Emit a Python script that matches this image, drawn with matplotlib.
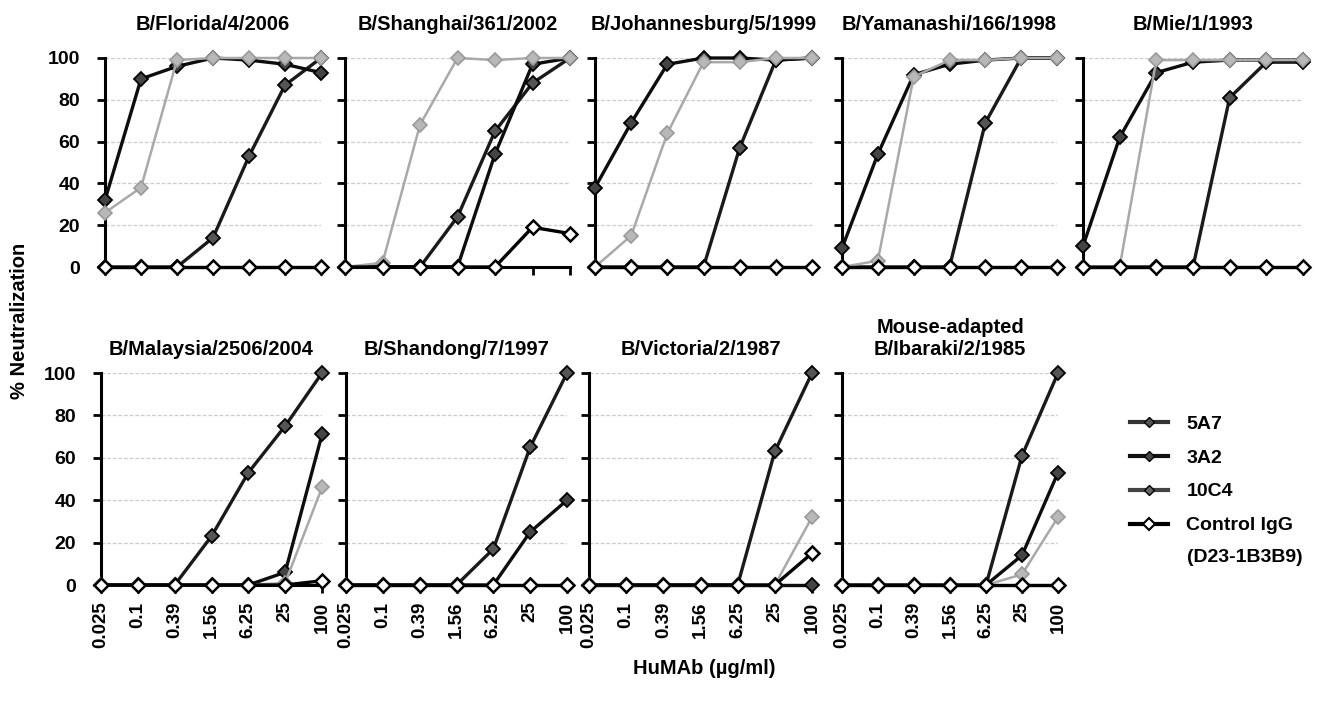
import matplotlib
matplotlib.use("Agg")
import matplotlib.pyplot as plt
from matplotlib.lines import Line2D

plt.rcParams['font.family'] = ['Liberation Sans', 'DejaVu Sans']
plt.rcParams['font.weight'] = 'bold'

# -----------------------
# Data
# -----------------------
conc_labels = ["0.025", "0.1", "0.39", "1.56", "6.25", "25", "100"]

strains = [
    "B/Florida/4/2006", "B/Shanghai/361/2002", "B/Johannesburg/5/1999",
    "B/Yamanashi/166/1998", "B/Mie/1/1993",
    "B/Malaysia/2506/2004", "B/Shandong/7/1997", "B/Victoria/2/1987",
    "Mouse-adapted\nB/Ibaraki/2/1985",
]

mab_5A7 = [
    [0, 0, 0, 14, 53, 87, 100],
    [0, 0, 0, 24, 65, 88, 100],
    [0, 0, 0, 0, 57, 99, 100],
    [0, 0, 0, 0, 69, 100, 100],
    [0, 0, 0, 0, 81, 98, 98],
    [0, 0, 0, 23, 53, 75, 100],
    [0, 0, 0, 0, 17, 65, 100],
    [0, 0, 0, 0, 0, 63, 100],
    [0, 0, 0, 0, 0, 61, 100],
]
mab_3A2 = [
    [32, 90, 96, 100, 99, 97, 93],
    [0, 0, 0, 0, 54, 97, 100],
    [38, 69, 97, 100, 100, 99, 100],
    [9, 54, 92, 97, 99, 100, 100],
    [10, 62, 93, 98, 99, 99, 99],
    [0, 0, 0, 0, 0, 6, 71],
    [0, 0, 0, 0, 0, 25, 40],
    [0, 0, 0, 0, 0, 0, 0],
    [0, 0, 0, 0, 0, 14, 53],
]
mab_10C4 = [
    [26, 38, 99, 100, 100, 100, 100],
    [0, 2, 68, 100, 99, 100, 100],
    [0, 15, 64, 98, 98, 100, 100],
    [0, 3, 91, 99, 99, 100, 100],
    [0, 0, 99, 99, 99, 99, 99],
    [0, 0, 0, 0, 0, 1, 46],
    [0, 0, 0, 0, 0, 0, 0],
    [0, 0, 0, 0, 0, 0, 32],
    [0, 0, 0, 0, 0, 5, 32],
]
control_igg = [
    [0, 0, 0, 0, 0, 0, 0],
    [0, 0, 0, 0, 0, 19, 16],
    [0, 0, 0, 0, 0, 0, 0],
    [0, 0, 0, 0, 0, 0, 0],
    [0, 0, 0, 0, 0, 0, 0],
    [0, 0, 0, 0, 0, 0, 2],
    [0, 0, 0, 0, 0, 0, 0],
    [0, 0, 0, 0, 0, 0, 15],
    [0, 0, 0, 0, 0, 0, 0],
]

# -----------------------
# Layout (pixels in a 1322x704 figure)
# -----------------------
W, H = 1322, 704
top_row = [(105, 216), (345, 225), (595, 217), (842, 215), (1083, 220)]
bot_row = [(101, 221), (346, 221), (589, 223), (842, 216)]
top_y = (58, 267)
bot_y = (373, 585)

fig = plt.figure(figsize=(W / 100, H / 100), dpi=100)

def make_ax(left, width, ytop, ybot):
    return fig.add_axes([left / W, 1 - ybot / H, width / W, (ybot - ytop) / H])

axes = [make_ax(l, w, *top_y) for l, w in top_row] + \
       [make_ax(l, w, *bot_y) for l, w in bot_row]

x = list(range(len(conc_labels)))
dark_mk = dict(marker='D', markersize=7, markeredgecolor='black',
               markeredgewidth=1.3, clip_on=False)

for i, ax in enumerate(axes):
    ax.plot(x, mab_5A7[i], color='#1a1a1a', lw=2.4, markerfacecolor='#555555',
            zorder=3, **dark_mk)
    ax.plot(x, mab_3A2[i], color='#0d0d0d', lw=2.4, markerfacecolor='#444444',
            zorder=3, **dark_mk)
    ax.plot(x, mab_10C4[i], color='#a9a9a9', lw=1.8, marker='D', markersize=7.5,
            markerfacecolor='#b8b8b8', markeredgecolor='#9a9a9a',
            markeredgewidth=1.2, clip_on=False, zorder=4)
    ax.plot(x, control_igg[i], color='black', lw=2.4, marker='D', markersize=7.5,
            markerfacecolor='white', markeredgecolor='black',
            markeredgewidth=1.8, clip_on=False, zorder=5)

    ax.set_xlim(0, 6)
    ax.set_ylim(0, 100)
    ax.set_yticks([0, 20, 40, 60, 80, 100])
    ax.set_xticks(x)
    ax.grid(axis='y', color='#cccccc', lw=0.9, ls=(0, (3, 1.5)))
    ax.set_axisbelow(True)
    for s in ['top', 'right']:
        ax.spines[s].set_visible(False)
    ax.spines['left'].set_linewidth(2.2)
    ax.spines['bottom'].set_linewidth(2.2)
    ax.tick_params(axis='both', direction='out', length=6, width=2,
                   labelsize=13.5)
    ax.tick_params(axis='y', pad=12, labelsize=14)
    ax.set_title(strains[i], fontsize=14.5, fontweight='bold',
                 pad=20 if i < 5 else 13)

    if i in (0, 5):
        ax.set_yticklabels([str(v) for v in [0, 20, 40, 60, 80, 100]],
                           fontweight='bold')
    else:
        ax.set_yticklabels([])
    if i >= 5:
        ax.set_xticklabels(conc_labels, rotation=90, fontweight='bold')
        ax.tick_params(axis='x', pad=6)
    else:
        ax.set_xticklabels([])

fig.text(20 / W, 1 - 321 / H, "% Neutralization", rotation=90, ha='center',
         va='center', fontsize=14.5, fontweight='bold')
fig.text(704 / W, 1 - 668 / H, "HuMAb (µg/ml)", ha='center', va='center',
         fontsize=14.5, fontweight='bold')

handles = [
    Line2D([], [], color='#333333', lw=3, marker='D', markersize=5,
           markerfacecolor='#555555', markeredgecolor='black'),
    Line2D([], [], color='#111111', lw=3, marker='D', markersize=5,
           markerfacecolor='#444444', markeredgecolor='black'),
    Line2D([], [], color='#444444', lw=3, marker='D', markersize=5,
           markerfacecolor='#666666', markeredgecolor='black'),
    Line2D([], [], color='black', lw=3, marker='D', markersize=6,
           markerfacecolor='white', markeredgecolor='black',
           markeredgewidth=1.5),
]
fig.legend(handles, ["5A7", "3A2", "10C4", "Control IgG"],
           loc='upper left', bbox_to_anchor=(1130 / W, 1 - 415 / H),
           frameon=False, borderpad=0, borderaxespad=0,
           handlelength=1.95, handletextpad=0.95, labelspacing=0.84,
           prop={'weight': 'bold', 'size': 14})
fig.text(1187 / W, 1 - 558 / H, "(D23-1B3B9)", ha='left', va='center',
         fontsize=14, fontweight='bold')

fig.savefig("out.png", dpi=100)
